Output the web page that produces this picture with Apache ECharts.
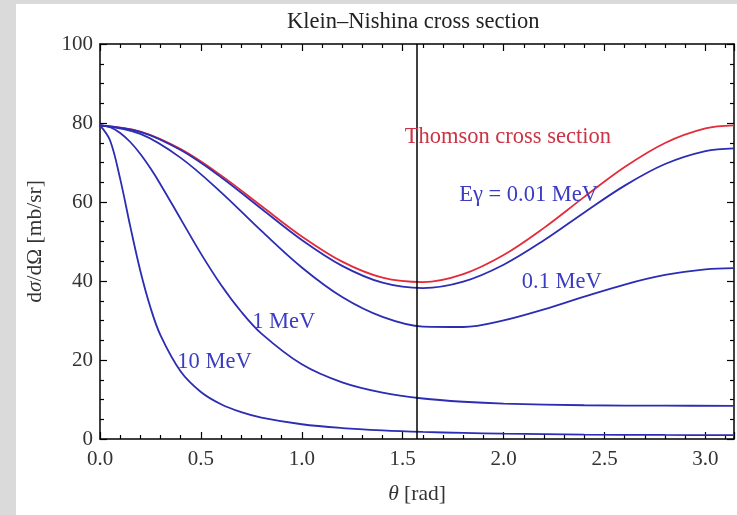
<!DOCTYPE html>
<html>
<head>
<meta charset="utf-8">
<script src="https://cdn.jsdelivr.net/npm/echarts@6/dist/echarts.min.js"></script>
<style>
  body { margin: 0; background: #dadada; }
  #kn { position: absolute; left: 16px; top: 4px; width: 721px; height: 511px; background: #fff; }
</style>
</head>
<body>
<div id="kn"></div>
<script>
// scattering angle samples [rad]
var thetaWide = [0, 0.2, 0.4, 0.6, 0.8, 1.0, 1.2, 1.4, 1.6, 1.8, 2.0, 2.2, 2.4, 2.6, 2.8, 3.0, 3.1416];
var thetaSteep = [0, 0.05, 0.1, 0.15, 0.2, 0.25, 0.3, 0.4, 0.5, 0.6, 0.7, 0.8, 1.0, 1.2, 1.4, 1.6, 1.8, 2.0, 2.4, 2.8, 3.1416];

// d(sigma)/d(Omega) in mb/sr
var thomson = [79.4, 77.83, 73.38, 66.74, 58.97, 51.29, 44.91, 40.85, 39.73, 41.75, 46.58, 53.45, 61.29, 68.85, 74.94, 78.61, 79.4];
var mev001 = [79.4, 77.77, 73.15, 66.29, 58.28, 50.38, 43.82, 39.56, 38.20, 39.84, 44.13, 50.31, 57.36, 64.15, 69.61, 72.88, 73.59];
var mev01 = [79.4, 77.23, 71.17, 62.45, 52.67, 43.42, 35.93, 30.90, 28.46, 28.35, 30.02, 32.81, 36.04, 39.11, 41.53, 42.96, 43.27];
var mev1 = [79.4, 78.92, 77.49, 75.19, 72.15, 68.52, 64.45, 55.67, 46.93, 38.99, 32.21, 26.68, 18.90, 14.33, 11.73, 10.25, 9.43, 8.96, 8.55, 8.43, 8.41];
var mev10 = [79.4, 75.58, 65.85, 53.83, 42.53, 33.29, 26.23, 17.08, 11.91, 8.80, 6.79, 5.42, 3.73, 2.77, 2.18, 1.79, 1.53, 1.34, 1.12, 1.02, 0.99];

var halfPi = Math.PI / 2;

function pairs(xs, ys) {
    return xs.map(function (x, i) { return [x, ys[i]]; });
}

var serif = 'Liberation Serif';
var blue = '#2c2cb4';
var blueText = '#3b3bc4';
var red = '#e42b3a';

function tag(x, y, text, color) {
    return {
        coord: [x, y],
        symbol: 'circle',
        symbolSize: 0,
        label: {
            show: true,
            position: 'right',
            distance: 0,
            formatter: text,
            color: color,
            fontFamily: serif,
            fontSize: 22.5
        }
    };
}

function curve(name, xs, ys, color, tags) {
    return {
        name: name,
        type: 'line',
        data: pairs(xs, ys),
        smooth: 0.35,
        showSymbol: false,
        lineStyle: { color: color, width: 1.8 },
        markPoint: { silent: true, data: tags }
    };
}

var tickLine = { color: '#000', width: 1.2 };
var nameStyle = {
    color: '#333', fontFamily: serif, fontSize: 21.5,
    rich: { i: { fontStyle: 'italic', color: '#333', fontFamily: serif, fontSize: 21.5 } }
};

function xAx(pos, labels) {
    return {
        type: 'value',
        position: pos,
        min: 0,
        max: Math.PI,
        interval: 0.5,
        axisLine: { onZero: false, lineStyle: { color: '#000', width: 1.5 } },
        axisTick: { inside: true, length: 7, lineStyle: tickLine },
        minorTick: { show: true, splitNumber: 5, length: 4, lineStyle: tickLine },
        splitLine: { show: false },
        axisLabel: {
            show: labels,
            margin: 10,
            color: '#333',
            fontFamily: serif,
            fontSize: 21,
            formatter: function (v) {
                return Math.abs(v * 2 - Math.round(v * 2)) < 1e-9 ? v.toFixed(1) : '';
            }
        },
        name: labels ? '{i|θ} [rad]' : '',
        nameLocation: 'middle',
        nameGap: 44,
        nameTextStyle: nameStyle
    };
}

function yAx(pos, labels) {
    return {
        type: 'value',
        position: pos,
        min: 0,
        max: 100,
        interval: 20,
        axisLine: { show: true, onZero: false, lineStyle: { color: '#000', width: 1.5 } },
        axisTick: { show: true, inside: true, length: 7, lineStyle: tickLine },
        minorTick: { show: true, splitNumber: 4, length: 4, lineStyle: tickLine },
        splitLine: { show: false },
        axisLabel: { show: labels, margin: 7, color: '#333', fontFamily: serif, fontSize: 21 },
        name: labels ? 'd{i|σ}/dΩ [mb/sr]' : '',
        nameLocation: 'middle',
        nameGap: 54,
        nameTextStyle: nameStyle
    };
}

var chart = echarts.init(document.getElementById('kn'));
chart.setOption({
    animation: false,
    grid: { left: 83.3, top: 40, right: 1.5, bottom: 76 },
    graphic: [{
        type: 'text',
        left: 401 - 130,
        top: 7,
        style: {
            text: 'Klein–Nishina cross section',
            fill: '#222',
            font: '22.5px "Liberation Serif"',
            width: 260,
            align: 'center'
        }
    }],
    xAxis: [xAx('bottom', true), xAx('top', false)],
    yAxis: [yAx('left', true), yAx('right', false)],
    series: [
        curve('Thomson', thetaWide, thomson, red, [tag(1.51, 76.5, 'Thomson cross section', '#cc3344')]),
        curve('0.01 MeV', thetaWide, mev001, blue, [tag(1.78, 61.8, 'Eγ = 0.01 MeV', blueText)]),
        curve('0.1 MeV', thetaWide, mev01, blue, [tag(2.09, 39.6, '0.1 MeV', blueText)]),
        curve('1 MeV', thetaSteep, mev1, blue, [tag(0.754, 29.6, '1 MeV', blueText)]),
        curve('10 MeV', thetaSteep, mev10, blue, [tag(0.383, 19.5, '10 MeV', blueText)]),
        {
            name: 'pi/2',
            type: 'line',
            data: [],
            markLine: {
                silent: true,
                symbol: 'none',
                label: { show: false },
                lineStyle: { color: '#000', width: 1.5, type: 'solid' },
                data: [{ xAxis: halfPi }]
            }
        }
    ]
});
</script>
</body>
</html>
